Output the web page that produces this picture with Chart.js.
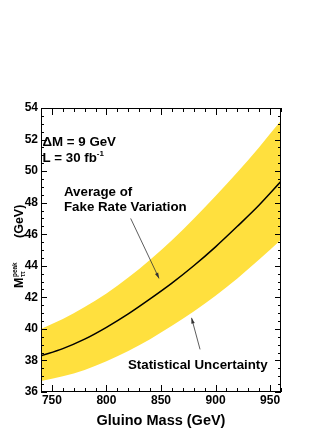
<!DOCTYPE html>
<html>
<head>
<meta charset="utf-8">
<script src="https://cdn.jsdelivr.net/npm/chart.js@4.4.1/dist/chart.umd.min.js"></script>
<style>
  html, body { margin: 0; padding: 0; background: #fff; }
  #wrap { width: 332px; height: 430px; }
</style>
</head>
<body>
<div id="wrap"><canvas id="peakChart" width="332" height="430"></canvas></div>
<script>
// gluino mass (GeV)
const gluinoMass = [740, 760, 780, 800, 820, 840, 860, 880, 900, 920, 940, 960];
// average of fake rate variation
const peakAverage = [38.3, 38.75, 39.35, 40.1, 40.95, 41.9, 42.9, 44.0, 45.2, 46.5, 47.85, 49.35];
// statistical uncertainty band
const bandUpper = [40.0, 40.62, 41.38, 42.25, 43.25, 44.38, 45.62, 46.98, 48.42, 49.93, 51.52, 53.2];
const bandLower = [36.7, 37.0, 37.4, 37.95, 38.6, 39.35, 40.2, 41.1, 42.1, 43.2, 44.4, 45.65];

const xTickValues = [750, 800, 850, 900, 950];
const yTickValues = [36, 38, 40, 42, 44, 46, 48, 50, 52, 54];

const bandColor = '#ffe03e';
const fontFamily = '"Liberation Sans", Arial, Helvetica, sans-serif';

function pts(ys) {
  return gluinoMass.map((x, i) => ({ x: x, y: ys[i] }));
}

// frame, inward ticks on all four sides, y title and the labels
const rootStyle = {
  id: 'rootStyle',
  afterDraw(chart) {
    const ctx = chart.ctx;
    const a = chart.chartArea;
    const xs = chart.scales.x;
    const ys = chart.scales.y;
    ctx.save();
    ctx.strokeStyle = '#000';
    ctx.lineWidth = 1;
    ctx.strokeRect(a.left + 0.5, a.top + 0.5, a.right - a.left - 1, a.bottom - a.top - 1);

    ctx.beginPath();
    for (let v = 740; v <= 960; v += 10) {
      const px = Math.round(xs.getPixelForValue(v)) + 0.5;
      const len = v % 50 === 0 ? 7 : 4;
      ctx.moveTo(px, a.bottom); ctx.lineTo(px, a.bottom - len);
      ctx.moveTo(px, a.top); ctx.lineTo(px, a.top + len);
    }
    for (let v = 36; v <= 54; v += 0.5) {
      const py = Math.round(ys.getPixelForValue(v)) + 0.5;
      const len = v % 2 === 0 ? 6 : 3;
      ctx.moveTo(a.left, py); ctx.lineTo(a.left + len, py);
      ctx.moveTo(a.right, py); ctx.lineTo(a.right - len, py);
    }
    ctx.stroke();

    // y axis title: M_tautau^peak (GeV)
    ctx.save();
    const cy = (a.top + a.bottom) / 2;
    ctx.translate(22.5, cy + 38);
    ctx.rotate(-Math.PI / 2);
    ctx.fillStyle = '#000';
    ctx.textBaseline = 'alphabetic';
    ctx.font = 'bold 12.5px ' + fontFamily;
    ctx.fillText('M', 0, 0);
    const mw = ctx.measureText('M').width;
    ctx.font = 'bold 6.5px ' + fontFamily;
    ctx.fillText('peak', mw + 0.5, -6);
    ctx.fillText('ττ', mw + 0.5, 2);
    ctx.font = 'bold 12.5px ' + fontFamily;
    ctx.fillText('(GeV)', 50, 0);
    ctx.restore();

    // annotations
    ctx.fillStyle = '#000';
    ctx.font = 'bold 13.3px ' + fontFamily;
    ctx.fillText('ΔM = 9 GeV', a.left + 1.5, a.top + 38);
    ctx.fillText('L = 30 fb', a.left + 1.5, a.top + 54);
    const lw = ctx.measureText('L = 30 fb').width;
    ctx.font = 'bold 8px ' + fontFamily;
    ctx.fillText('-1', a.left + 1.5 + lw, a.top + 47.5);
    ctx.font = 'bold 13.3px ' + fontFamily;
    ctx.fillText('Average of', a.left + 23, a.top + 88);
    ctx.fillText('Fake Rate Variation', a.left + 23, a.top + 102.5);
    ctx.fillText('Statistical Uncertainty', a.left + 87, a.top + 260.5);

    arrow(ctx, xs.getPixelForValue(822.2), ys.getPixelForValue(47.0), xs.getPixelForValue(848.2), ys.getPixelForValue(43.2));
    arrow(ctx, xs.getPixelForValue(885.8), ys.getPixelForValue(38.7), xs.getPixelForValue(878.0), ys.getPixelForValue(40.7));
    ctx.restore();
  }
};

function arrow(ctx, x0, y0, x1, y1) {
  const ang = Math.atan2(y1 - y0, x1 - x0);
  ctx.strokeStyle = '#333';
  ctx.fillStyle = '#333';
  ctx.lineWidth = 0.8;
  ctx.beginPath();
  ctx.moveTo(x0, y0);
  ctx.lineTo(x1, y1);
  ctx.stroke();
  ctx.beginPath();
  ctx.moveTo(x1, y1);
  ctx.lineTo(x1 - 6 * Math.cos(ang - 0.3), y1 - 6 * Math.sin(ang - 0.3));
  ctx.lineTo(x1 - 6 * Math.cos(ang + 0.3), y1 - 6 * Math.sin(ang + 0.3));
  ctx.closePath();
  ctx.fill();
}

new Chart(document.getElementById('peakChart'), {
  type: 'line',
  data: {
    datasets: [
      {
        label: 'Statistical Uncertainty',
        data: pts(bandUpper),
        borderWidth: 0,
        backgroundColor: bandColor,
        fill: '+1',
        pointRadius: 0,
        cubicInterpolationMode: 'monotone',
        order: 2
      },
      {
        label: 'lower',
        data: pts(bandLower),
        borderWidth: 0,
        backgroundColor: bandColor,
        fill: false,
        pointRadius: 0,
        cubicInterpolationMode: 'monotone',
        order: 3
      },
      {
        label: 'Average of Fake Rate Variation',
        data: pts(peakAverage),
        borderColor: '#000',
        borderWidth: 1.5,
        fill: false,
        pointRadius: 0,
        cubicInterpolationMode: 'monotone',
        order: 1
      }
    ]
  },
  options: {
    responsive: false,
    animation: false,
    layout: { padding: { left: 0, right: 51, top: 108, bottom: 0 } },
    plugins: {
      legend: { display: false },
      tooltip: { enabled: false }
    },
    scales: {
      x: {
        type: 'linear',
        min: 740,
        max: 960,
        afterBuildTicks: (scale) => { scale.ticks = xTickValues.map(v => ({ value: v })); },
        afterFit: (scale) => { scale.height = 38; },
        grid: { display: false, drawTicks: false },
        border: { display: false },
        ticks: {
          padding: 1,
          color: '#000',
          font: { family: fontFamily, size: 12, weight: 'bold' }
        },
        title: {
          display: true,
          text: 'Gluino Mass (GeV)',
          color: '#000',
          padding: { top: 0, bottom: 0 },
          font: { family: fontFamily, size: 14.5, weight: 'bold' }
        }
      },
      y: {
        type: 'linear',
        min: 36,
        max: 54,
        afterBuildTicks: (scale) => { scale.ticks = yTickValues.map(v => ({ value: v })); },
        afterFit: (scale) => { scale.width = 41; },
        grid: { display: false, drawTicks: false },
        border: { display: false },
        ticks: {
          padding: 3,
          color: '#000',
          font: { family: fontFamily, size: 12, weight: 'bold' }
        }
      }
    }
  },
  plugins: [rootStyle]
});
</script>
</body>
</html>
